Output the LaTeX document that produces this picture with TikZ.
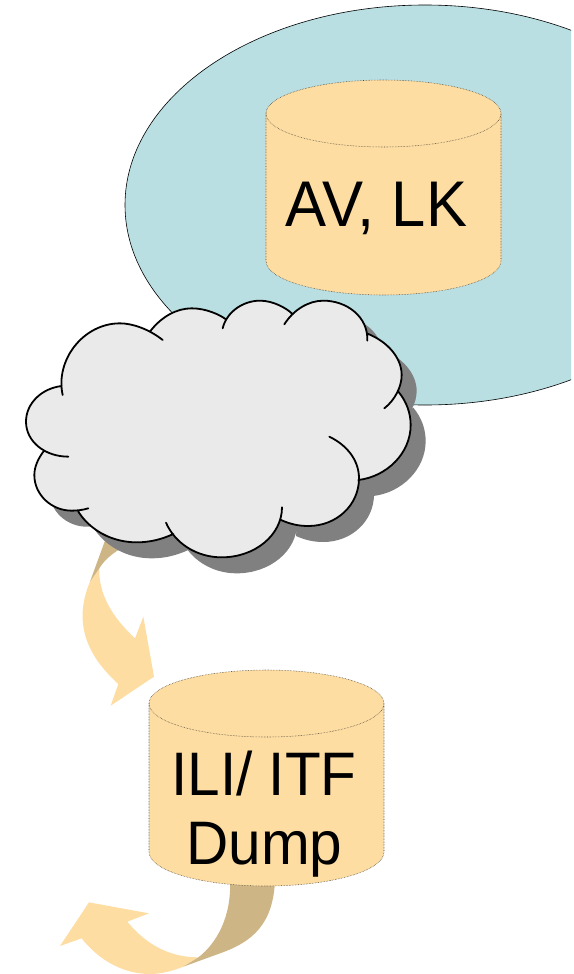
\documentclass[tikz,border=0pt]{standalone}
\usepackage{graphicx}
\usepackage{fontspec}
\setmainfont{Liberation Sans}
\definecolor{teal}{HTML}{B9DFE3}
\definecolor{cyl}{HTML}{FDDDA2}
\definecolor{darkarrow}{HTML}{CEB585}
\definecolor{cloudfill}{HTML}{EAEAEA}
\definecolor{shadowgray}{HTML}{808080}
\definecolor{cyledge}{HTML}{4A4436}
\newcommand\cloudp[1]{%
 (188,345) .. controls (165,240) and (250,130) .. (360,130) .. controls (398,130) and (448,148) .. (488,180) #1
 (452,152) .. controls (485,110) and (530,85) .. (575,85) .. controls (620,85) and (660,105) .. (678,118) #1
 (668,145) .. controls (680,95) and (730,62) .. (780,62) .. controls (820,62) and (860,85) .. (875,100) #1
 (853,133) .. controls (880,90) and (925,62) .. (970,62) .. controls (1040,62) and (1105,110) .. (1102,182) #1
 (1100,160) .. controls (1165,185) and (1205,235) .. (1205,285) .. controls (1205,320) and (1185,360) .. (1153,385) #1
 (1195,335) .. controls (1220,365) and (1232,400) .. (1232,435) .. controls (1232,520) and (1160,590) .. (1075,600) #1
 (988,470) .. controls (1040,495) and (1077,540) .. (1077,595) .. controls (1077,675) and (1010,738) .. (925,738) .. controls (895,738) and (870,732) .. (843,720) #1
 (846,682) .. controls (846,765) and (765,832) .. (665,832) .. controls (590,832) and (525,790) .. (498,728) #1
 (520,762) .. controls (485,778) and (450,787) .. (410,787) .. controls (335,787) and (270,750) .. (235,695) #1
 (265,685) .. controls (248,690) and (232,692) .. (215,692) .. controls (155,692) and (103,645) .. (103,585) .. controls (103,560) and (115,535) .. (130,515) #1
 (205,530) .. controls (135,530) and (78,485) .. (78,425) .. controls (78,370) and (125,325) .. (185,318)}
% x-centre, top-ellipse-centre y, lower-ellipse-centre y
\newcommand\cylinder[3]{%
 \path[cylfill] (#1-117.5,#2) -- (#1-117.5,#3) arc[x radius=117.5,y radius=34,start angle=180,end angle=0]
   -- (#1+117.5,#2) arc[x radius=117.5,y radius=33.5,start angle=0,end angle=-180] -- cycle;
 \draw[cylline] (#1-117.5,#2) -- (#1-117.5,#3) arc[x radius=117.5,y radius=34,start angle=180,end angle=0]
   -- (#1+117.5,#2) arc[x radius=117.5,y radius=33.5,start angle=0,end angle=-180];
 \draw[cylline] (#1-117.5,#2) arc[x radius=117.5,y radius=33.5,start angle=180,end angle=0];
}
\newcommand\tallwide[2]{\scalebox{#1}[1.05]{#2}}
\tikzset{
  cylfill/.style={fill=cyl},
  cylline/.style={draw=cyledge,line width=.55pt,densely dotted},
  bigtext/.style={text=black,anchor=base,inner sep=0pt},
  cloudline/.style={draw=black,line width=1.8pt,line cap=round},
  zoomone/.style={shift={(0,280)},x=.33333pt,y=-.33333pt},
  zoomtwo/.style={shift={(40,530)},x=.33333pt,y=-.33333pt},
  zoomthree/.style={shift={(40,860)},x=.33333pt,y=-.33333pt},
}
\begin{document}
\begin{tikzpicture}[x=1pt,y=-1pt]
\useasboundingbox (0,0) rectangle (573,974);
% big ellipse
\begin{scope}
\clip (0,0) rectangle (571,974);
\draw[fill=teal,draw=black,line width=.6pt] (425,205) ellipse [x radius=300,y radius=200];
\end{scope}
% arrow out of the cloud
\begin{scope}[zoomtwo]
\fill[cyl] (150,155) .. controls (125,215) and (120,270) .. (140,330) .. controls (160,385) and (195,425) .. (235,462)
  -- (212,527) -- (342,440) -- (310,260) -- (285,325) .. controls (215,260) and (175,190) .. (178,115) -- cycle;
\fill[darkarrow] (195,32) -- (150,155) -- (178,115) .. controls (190,95) and (210,75) .. (240,57) -- cycle;
\end{scope}
% arrow out of the dump
\begin{scope}[zoomthree]
\fill[cyl] (475,292) .. controls (385,292) and (315,250) .. (262,185) -- (327,160) -- (147,127) -- (60,258) -- (125,235)
  .. controls (180,305) and (255,342) .. (330,342) .. controls (365,342) and (400,332) .. (430,320) -- cycle;
\fill[darkarrow] (570,60) -- (705,60) .. controls (700,190) and (640,245) .. (540,280) -- (430,320) -- (475,292)
  .. controls (530,250) and (575,170) .. (570,60) -- cycle;
\end{scope}
% cloud
\begin{scope}[zoomone]
\fill[shadowgray,xshift=15pt,yshift=-16pt] \cloudp{--} -- cycle;
\fill[cloudfill] \cloudp{--} -- cycle;
\draw[cloudline] \cloudp{};
\end{scope}
% cylinders
\cylinder{383.5}{113.5}{261}
\node[bigtext,font=\fontsize{61.5}{61}\selectfont] (avlk) at (376.5,226) {\tallwide{1}{AV, LK}};
\cylinder{266.5}{703.5}{852}
\node[bigtext,font=\fontsize{58.5}{58}\selectfont] (ili) at (264,795) {\tallwide{1}{ILI/ ITF}};
\node[bigtext,font=\fontsize{58.5}{58}\selectfont] (dump) at (264.5,864) {\tallwide{1}{Dump}};
\end{tikzpicture}
\end{document}
